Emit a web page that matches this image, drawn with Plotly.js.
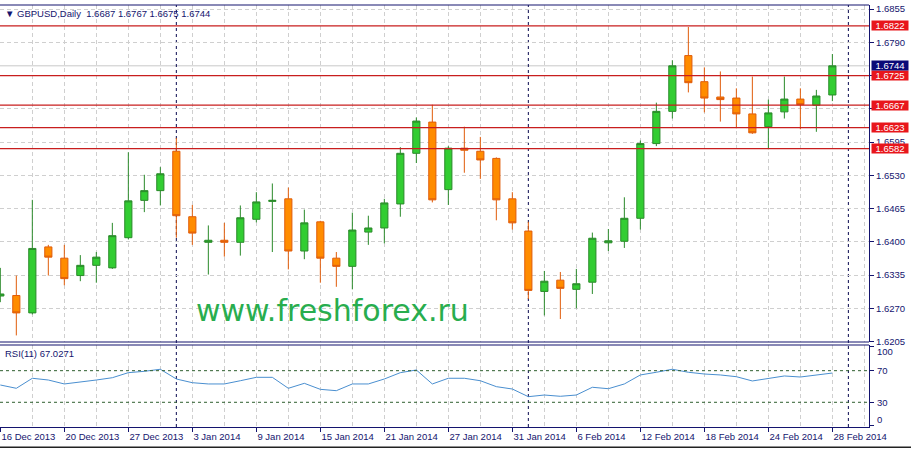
<!DOCTYPE html>
<html>
<head>
<meta charset="utf-8">
<script src="https://cdn.plot.ly/plotly-3.0.1.min.js"></script>
<style>html,body{margin:0;padding:0;background:#fff;}#chart{width:911px;height:449px;}</style>
</head>
<body>
<div id="chart"></div>
<script>
// ---- data ----
const symbol = 'GBPUSD,Daily';
const dates = ['2013-12-16','2013-12-17','2013-12-18','2013-12-19','2013-12-20','2013-12-23','2013-12-24','2013-12-26','2013-12-27','2013-12-30','2013-12-31',
'2014-01-02','2014-01-03','2014-01-06','2014-01-07','2014-01-08','2014-01-09','2014-01-10','2014-01-13','2014-01-14','2014-01-15','2014-01-16','2014-01-17','2014-01-20','2014-01-21','2014-01-22','2014-01-23','2014-01-24','2014-01-27','2014-01-28','2014-01-29','2014-01-30','2014-01-31',
'2014-02-03','2014-02-04','2014-02-05','2014-02-06','2014-02-07','2014-02-10','2014-02-11','2014-02-12','2014-02-13','2014-02-14','2014-02-17','2014-02-18','2014-02-19','2014-02-20','2014-02-21','2014-02-24','2014-02-25','2014-02-26','2014-02-27','2014-02-28'];
const open  = [1.6294,1.6295,1.6261,1.6390,1.6368,1.6334,1.6354,1.6349,1.6408,1.6481,1.6500,1.6577,1.6449,1.6399,1.6403,1.6399,1.6444,1.6479,1.6484,1.6382,1.6439,1.6368,1.6352,1.6419,1.6427,1.6474,1.6573,1.6634,1.6502,1.6583,1.6577,1.6563,1.6484,1.6421,1.6303,1.6325,1.6307,1.6321,1.6398,1.6401,1.6446,1.6592,1.6655,1.6764,1.6713,1.6683,1.6681,1.6650,1.6625,1.6654,1.6679,1.6667,1.6687];
const high  = [1.6349,1.6334,1.6482,1.6394,1.6394,1.6374,1.6380,1.6437,1.6575,1.6531,1.6546,1.6603,1.6472,1.6432,1.6437,1.6471,1.6497,1.6514,1.6506,1.6463,1.6441,1.6380,1.6457,1.6451,1.6484,1.6585,1.6643,1.6668,1.6587,1.6625,1.6605,1.6565,1.6497,1.6439,1.6343,1.6341,1.6347,1.6418,1.6425,1.6487,1.6598,1.6672,1.6755,1.6820,1.6741,1.6733,1.6700,1.6723,1.6678,1.6723,1.6700,1.6697,1.6767];
const low   = [1.6282,1.6217,1.6258,1.6334,1.6315,1.6323,1.6320,1.6347,1.6405,1.6458,1.6471,1.6408,1.6394,1.6336,1.6371,1.6373,1.6438,1.6380,1.6346,1.6366,1.6320,1.6312,1.6307,1.6394,1.6397,1.6449,1.6554,1.6477,1.6472,1.6535,1.6523,1.6442,1.6424,1.6288,1.6256,1.6249,1.6270,1.6298,1.6382,1.6388,1.6424,1.6587,1.6641,1.6692,1.6653,1.6635,1.6622,1.6611,1.6581,1.6641,1.6620,1.6615,1.6675];
const close = [1.6298,1.6261,1.6387,1.6370,1.6328,1.6354,1.6370,1.6412,1.6480,1.6500,1.6533,1.6451,1.6417,1.6403,1.6399,1.6447,1.6478,1.6481,1.6382,1.6437,1.6368,1.6352,1.6423,1.6427,1.6476,1.6573,1.6636,1.6482,1.6583,1.6579,1.6560,1.6482,1.6437,1.6305,1.6323,1.6309,1.6318,1.6407,1.6402,1.6446,1.6592,1.6655,1.6744,1.6711,1.6681,1.6678,1.6650,1.6613,1.6652,1.6679,1.6668,1.6685,1.6744];
const rsiPeriod = 11;
const rsi = [51.9,47.7,60.4,58.2,53.2,55.3,58.2,61.1,67.5,69.2,71.8,59.5,54.8,53.2,53.2,57.3,61.6,61.6,47.7,54.0,46.4,44.7,53.2,53.2,59.5,67.5,70.9,53.2,60.4,60.4,57.3,49.8,46.8,37.1,39.2,37.6,39.2,49.0,47.2,53.2,64.6,68.0,71.8,68.0,65.8,64.6,62.4,57.0,60.4,63.3,62.0,64.2,67.0271];
const levels = [1.6822,1.6725,1.6667,1.6623,1.6582];
const rsiLevels = [70,30];
const rsiTicks = [0,30,70,100];
const priceTicks = [1.6205,1.6270,1.6335,1.6400,1.6465,1.6530,1.6595,1.6660,1.6725,1.6790,1.6855];
const tickDates = ['2013-12-16','2013-12-20','2013-12-27','2014-01-03','2014-01-09','2014-01-15','2014-01-21','2014-01-27','2014-01-31','2014-02-06','2014-02-12','2014-02-18','2014-02-24','2014-02-28'];
const tickText = ['16 Dec 2013','20 Dec 2013','27 Dec 2013','3 Jan 2014','9 Jan 2014','15 Jan 2014','21 Jan 2014','27 Jan 2014','31 Jan 2014','6 Feb 2014','12 Feb 2014','18 Feb 2014','24 Feb 2014','28 Feb 2014'];
const watermark = 'www.freshforex.ru';

// ---- build ----
const idx = dates.map((d, i) => i);
const n = dates.length;
const tickVals = tickDates.map(d => dates.indexOf(d));
const separators = [];
for (let i = 1; i < n; i++) if (dates[i].slice(0, 7) !== dates[i - 1].slice(0, 7)) separators.push(i);
separators.push(n);
const last = n - 1;
const fmt = v => v.toFixed(4);

const NAVY = '#14146e';
const FONT = 'Arial, Liberation Sans, sans-serif';
const FS = 9.5;
const GRID = '#cfcfcf';
const mainBottom = 0.2014, rsiTop = 0.1943;

// price tick labels fully hidden behind level/price boxes (as on the reference) are left blank
const boxed = levels.concat([close[last]]);
const priceTickText = priceTicks.map(t => boxed.some(b => Math.abs(b - t) < 0.0009) ? '' : fmt(t));

const traces = [
  {
    type: 'candlestick', x: idx, open: open, high: high, low: low, close: close,
    xaxis: 'x', yaxis: 'y',
    increasing: {fillcolor: '#32cd32', line: {color: '#2a8a2a', width: 1}},
    decreasing: {fillcolor: '#ff8c00', line: {color: '#e05c0a', width: 1}},
    whiskerwidth: 0, hoverinfo: 'skip', showlegend: false
  },
  {
    type: 'scatter', mode: 'lines', x: idx, y: rsi, xaxis: 'x', yaxis: 'y2',
    line: {color: '#4a8fd0', width: 1}, hoverinfo: 'skip', showlegend: false
  }
];

const shapes = [];
levels.forEach(l => shapes.push({type: 'line', xref: 'paper', x0: 0, x1: 1, yref: 'y', y0: l, y1: l,
  line: {color: '#c81e1e', width: 1.3}, layer: 'above'}));
shapes.push({type: 'line', xref: 'paper', x0: 0, x1: 1, yref: 'y', y0: close[last], y1: close[last],
  line: {color: '#c8c8c8', width: 1}, layer: 'below'});
rsiLevels.forEach(l => shapes.push({type: 'line', xref: 'paper', x0: 0, x1: 1, yref: 'y2', y0: l, y1: l,
  line: {color: '#2f5f2f', width: 1, dash: '3px,3px'}, layer: 'above'}));
separators.forEach(s => shapes.push({type: 'line', xref: 'x', x0: s, x1: s, yref: 'paper', y0: 0, y1: 1,
  line: {color: '#0a0a50', width: 1, dash: '3px,3px'}, layer: 'below'}));
[1, mainBottom, rsiTop].forEach(p => shapes.push({type: 'line', xref: 'paper', x0: 0, x1: 1, yref: 'paper', y0: p, y1: p,
  line: {color: NAVY, width: 1.2}, layer: 'above'}));
shapes.push({type: 'line', xref: 'paper', x0: 0, x1: 911 / 869, yref: 'paper', y0: -0.048, y1: -0.048,
  line: {color: '#222', width: 1.5}});

const annotations = [];
annotations.push({xref: 'paper', yref: 'paper', x: 0, y: 0.9787, xanchor: 'left', yanchor: 'middle', xshift: 3,
  text: '\u25BC ' + symbol + '  ' + [open[last], high[last], low[last], close[last]].map(fmt).join(' '),
  showarrow: false, font: {family: FONT, size: FS, color: NAVY}});
annotations.push({xref: 'paper', yref: 'paper', x: 0, y: 0.173, xanchor: 'left', yanchor: 'middle', xshift: 3,
  text: 'RSI(' + rsiPeriod + ') ' + rsi[last].toFixed(4), showarrow: false, font: {family: FONT, size: FS, color: NAVY}});
annotations.push({xref: 'paper', yref: 'paper', x: 0.383, y: 0.275, xanchor: 'center', yanchor: 'middle',
  text: watermark, showarrow: false, font: {family: 'DejaVu Sans, sans-serif', size: 30, color: '#28ad4e'}});
levels.forEach(l => annotations.push({xref: 'paper', yref: 'y', x: 1, y: l, xanchor: 'left', yanchor: 'middle', xshift: 2,
  text: fmt(l), showarrow: false, bgcolor: '#e8161b', width: 36, height: 9, borderpad: 0,
  font: {family: FONT, size: FS, color: '#ffffff'}}));
annotations.push({xref: 'paper', yref: 'y', x: 1, y: close[last], xanchor: 'left', yanchor: 'middle', xshift: 2,
  text: fmt(close[last]), showarrow: false, bgcolor: '#0a0a78', width: 36, height: 9, borderpad: 0,
  font: {family: FONT, size: FS, color: '#ffffff'}});
// RSI scale labels (MT4 keeps the end labels inside the sub-window)
const rsiLabelShift = {100: -5, 0: 6};
rsiTicks.forEach(v => annotations.push({xref: 'paper', yref: 'y2', x: 1, y: v, xanchor: 'left', yanchor: 'middle',
  xshift: 6, yshift: rsiLabelShift[v] || 0, text: String(v), showarrow: false,
  font: {family: FONT, size: FS, color: NAVY}}));

const layout = {
  width: 911, height: 449,
  margin: {l: 0, r: 42, t: 5, b: 22, pad: 0},
  paper_bgcolor: '#ffffff', plot_bgcolor: '#ffffff',
  showlegend: false, hovermode: false, boxgap: 0.36,
  font: {family: FONT, size: FS, color: NAVY},
  xaxis: {
    type: 'linear', anchor: 'y2', range: [-0.02, 54.29],
    tickmode: 'array', tickvals: tickVals, ticktext: tickText, tickangle: 0,
    ticklabelposition: 'outside right',
    ticks: 'outside', ticklen: 4, tickcolor: NAVY, tickwidth: 1,
    showgrid: true, gridcolor: GRID, griddash: '4px,3px', gridwidth: 1,
    minor: {tickmode: 'linear', tick0: 0, dtick: 2, showgrid: true, gridcolor: GRID, griddash: '4px,3px', ticks: ''},
    showline: true, linecolor: NAVY, linewidth: 1.2, zeroline: false,
    rangeslider: {visible: false}, fixedrange: true,
    tickfont: {family: FONT, size: FS, color: NAVY}
  },
  yaxis: {
    domain: [mainBottom, 1], side: 'right', anchor: 'x',
    range: [1.62041, 1.68629],
    tickmode: 'array', tickvals: priceTicks, ticktext: priceTickText,
    ticks: 'outside', ticklen: 4, tickcolor: NAVY,
    showgrid: true, gridcolor: GRID, griddash: '4px,3px', zeroline: false,
    showline: true, linecolor: NAVY, linewidth: 1.2,
    tickfont: {family: FONT, size: FS, color: NAVY}, fixedrange: true
  },
  yaxis2: {
    domain: [0, rsiTop], side: 'right', anchor: 'x',
    range: [-1.27, 102.5],
    tickmode: 'array', tickvals: rsiTicks, ticktext: rsiTicks.map(() => ''),
    ticks: 'outside', ticklen: 4, tickcolor: NAVY,
    showgrid: false, zeroline: false,
    showline: true, linecolor: NAVY, linewidth: 1.2,
    tickfont: {family: FONT, size: FS, color: NAVY}, fixedrange: true
  },
  shapes: shapes,
  annotations: annotations
};

Plotly.newPlot('chart', traces, layout, {displayModeBar: false, staticPlot: true});
</script>
</body>
</html>
